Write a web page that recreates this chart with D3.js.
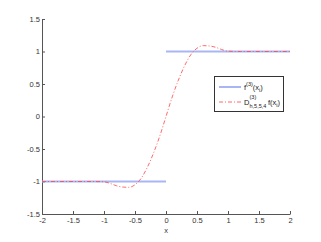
<!DOCTYPE html>
<html>
<head>
<meta charset="utf-8">
<script src="https://cdn.jsdelivr.net/npm/d3@7"></script>
<style>
  body { margin: 0; background: #fff; }
  svg { display: block; font-family: "Liberation Sans", Arial, sans-serif; }
  .axis text { fill: #333; }
  .axis path, .axis line { stroke: #555; }
</style>
</head>
<body>
<div id="chart"></div>
<script>
// exact third derivative (step), two pieces
const exactLeft  = [[-2, -1], [0, -1]];
const exactRight = [[0, 1], [2, 1]];

// finite-difference approximation
const approxX = [-2, -1.5, -1.2, -1.0, -0.9, -0.8, -0.7, -0.6, -0.5, -0.4, -0.3, -0.2, -0.1, 0,
                 0.1, 0.2, 0.3, 0.4, 0.5, 0.6, 0.7, 0.8, 0.9, 1.0, 1.2, 1.5, 2];
const approxY = [-1, -1.0, -1.0, -1.005, -1.03, -1.065, -1.085, -1.09, -1.05, -0.95, -0.78, -0.56, -0.3, 0,
                 0.3, 0.56, 0.78, 0.95, 1.05, 1.09, 1.085, 1.065, 1.03, 1.005, 1.0, 1.0, 1];

const xTicks = [-2, -1.5, -1, -0.5, 0, 0.5, 1, 1.5, 2];
const yTicks = [-1.5, -1, -0.5, 0, 0.5, 1, 1.5];

const W = 321, H = 242;
const margin = {top: 19, right: 31, bottom: 28, left: 42};
const fs = '7.5px', fsSmall = '5.5px';

const svg = d3.select('#chart').append('svg').attr('width', W).attr('height', H);

const x = d3.scaleLinear().domain([-2, 2]).range([margin.left, W - margin.right]);
const y = d3.scaleLinear().domain([-1.5, 1.5]).range([H - margin.bottom, margin.top]);

const fmt = d => String(d);

svg.append('g').attr('class', 'axis')
  .attr('transform', `translate(0,${H - margin.bottom})`)
  .call(d3.axisBottom(x).tickValues(xTicks).tickFormat(fmt).tickSizeInner(-3).tickSizeOuter(0).tickPadding(4));

svg.append('g').attr('class', 'axis')
  .attr('transform', `translate(${margin.left},0)`)
  .call(d3.axisLeft(y).tickValues(yTicks).tickFormat(fmt).tickSizeInner(-3).tickSizeOuter(0).tickPadding(2));

svg.selectAll('.axis text').style('font-size', fs).style('font-family', '"Liberation Sans", Arial, sans-serif');

svg.append('text').attr('x', x(0)).attr('y', 233).attr('text-anchor', 'middle')
  .style('font-size', fs).attr('fill', '#333').text('x');

const line = d3.line().x(d => x(d[0])).y(d => y(d[1]));
const blue = '#a9b5f5', red = '#f44';

[exactLeft, exactRight].forEach(seg => {
  svg.append('path').datum(seg).attr('d', line)
    .attr('fill', 'none').attr('stroke', blue).attr('stroke-width', 2);
});

const approx = approxX.map((v, i) => [v, approxY[i]]);
svg.append('path').datum(approx).attr('d', line.curve(d3.curveMonotoneX))
  .attr('fill', 'none').attr('stroke', red).attr('stroke-width', 0.8)
  .attr('stroke-dasharray', '4,2,1,2');

// legend
const lg = svg.append('g');
lg.append('rect').attr('x', 214.5).attr('y', 76.5).attr('width', 69).attr('height', 35)
  .attr('fill', '#fff').attr('stroke', '#333').attr('stroke-width', 1);
lg.append('line').attr('x1', 219).attr('x2', 241).attr('y1', 87).attr('y2', 87)
  .attr('stroke', blue).attr('stroke-width', 2);
lg.append('line').attr('x1', 219).attr('x2', 241).attr('y1', 102).attr('y2', 102)
  .attr('stroke', red).attr('stroke-width', 0.8).attr('stroke-dasharray', '4,2,1,2');

const t1 = lg.append('text').attr('x', 244).attr('y', 90).style('font-size', fs).attr('fill', '#222');
t1.append('tspan').text('f');
t1.append('tspan').attr('dy', -4).style('font-size', fsSmall).text('(3)');
t1.append('tspan').attr('dy', 4).text('(x');
t1.append('tspan').attr('dy', 2).style('font-size', fsSmall).text('i');
t1.append('tspan').attr('dy', -2).text(')');

lg.append('text').attr('x', 244).attr('y', 105).style('font-size', fs).attr('fill', '#222').text('D');
lg.append('text').attr('x', 249.5).attr('y', 99).style('font-size', fsSmall).attr('fill', '#222').text('(3)');
lg.append('text').attr('x', 249.5).attr('y', 108).style('font-size', fsSmall).attr('fill', '#222').text('h,5,5,4');
const t2 = lg.append('text').attr('x', 268).attr('y', 105).style('font-size', fs).attr('fill', '#222');
t2.append('tspan').text('f(x');
t2.append('tspan').attr('dy', 2).style('font-size', fsSmall).text('i');
t2.append('tspan').attr('dy', -2).text(')');
</script>
</body>
</html>
